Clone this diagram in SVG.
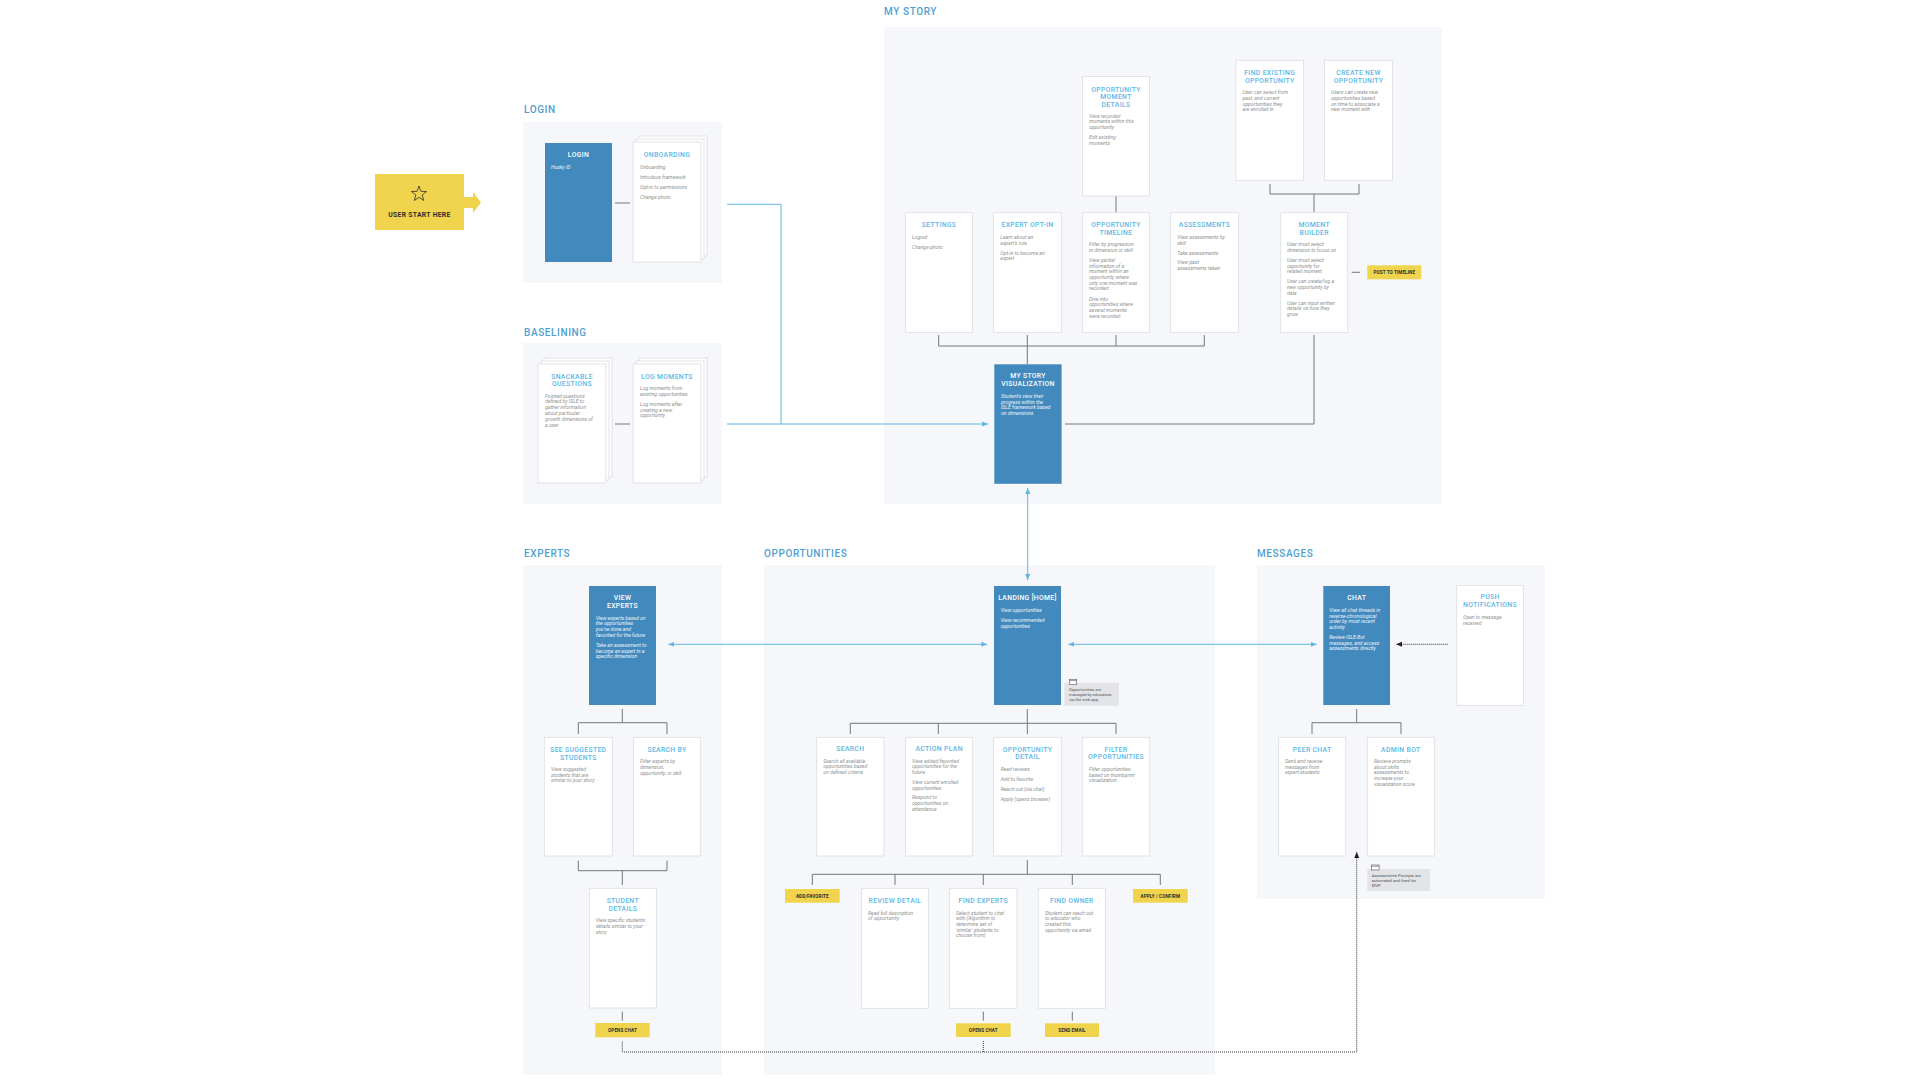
<svg xmlns="http://www.w3.org/2000/svg" width="1920" height="1080" viewBox="0 0 1920 1080">
<defs>
<style>
.panel{fill:#f6f7fb}
.sec{font-family:Roboto,"Liberation Sans",sans-serif;font-size:10px;font-weight:500;fill:#4f9fd2;letter-spacing:.6px}
.card{fill:#fff;stroke:#dcdde1;stroke-width:.8}
.bnode{fill:#4289bd}
.t{font-family:Roboto,"Liberation Sans",sans-serif;font-size:6.8px;font-weight:500;fill:#5ab8e8;text-anchor:middle;letter-spacing:.35px}
.tw{font-family:Roboto,"Liberation Sans",sans-serif;font-size:6.8px;font-weight:500;fill:#ffffff;text-anchor:middle;letter-spacing:.35px}
.b{font-family:Roboto,"Liberation Sans",sans-serif;font-size:5.1px;font-style:italic;fill:#8d8f92}
.bw{font-family:Roboto,"Liberation Sans",sans-serif;font-size:5.1px;font-style:italic;fill:#eef5fb}
.c{stroke:#74767a;stroke-width:1;fill:none}
.bl{stroke:#62b6e4;stroke-width:1;fill:none}
.y{fill:#f0d44e}
.yt{font-family:Roboto,"Liberation Sans",sans-serif;font-size:4.6px;font-weight:700;fill:#2e2e2e;text-anchor:middle;letter-spacing:.1px}
.d{stroke:#333;stroke-width:1;fill:none;stroke-dasharray:1 1}
.note{fill:#e3e4e8}
.nt{font-family:Roboto,"Liberation Sans",sans-serif;font-size:4.2px;fill:#555}
.ic{fill:#fff;stroke:#555;stroke-width:.6}
</style>
<marker id="ab" markerUnits="userSpaceOnUse" markerWidth="6" markerHeight="6" refX="6" refY="3" orient="auto-start-reverse"><path d="M0,0.5 L6,3 L0,5.5 z" fill="#62b6e4"/></marker>
<marker id="ad" markerUnits="userSpaceOnUse" markerWidth="6" markerHeight="6" refX="6" refY="3" orient="auto-start-reverse"><path d="M0,0.5 L6,3 L0,5.5 z" fill="#222"/></marker>
</defs>
<rect x="0" y="0" width="1920" height="1080" fill="#fff"/>

<!-- panels -->
<g id="panels">
<rect class="panel" x="523" y="122" width="199" height="161"/>
<rect class="panel" x="523" y="343" width="199" height="161"/>
<rect class="panel" x="884" y="27" width="558" height="477"/>
<rect class="panel" x="523" y="565" width="199" height="510"/>
<rect class="panel" x="764" y="565" width="451" height="510"/>
<rect class="panel" x="1257" y="565" width="288" height="334"/>
<text class="sec" x="524" y="113">LOGIN</text>
<text class="sec" x="524" y="335.5">BASELINING</text>
<text class="sec" x="884" y="15">MY STORY</text>
<text class="sec" x="524" y="556.5">EXPERTS</text>
<text class="sec" x="764" y="556.5">OPPORTUNITIES</text>
<text class="sec" x="1257" y="556.5">MESSAGES</text>
</g>

<!-- connectors -->
<g id="connectors">
<path class="bl" d="M727,204.3 H781 V424"/>
<path class="bl" d="M727,424 H988" marker-end="url(#ab)"/>
<path class="bl" d="M1027.7,488 V580" marker-start="url(#ab)" marker-end="url(#ab)"/>
<path class="bl" d="M668.3,644.3 H987.3" marker-start="url(#ab)" marker-end="url(#ab)"/>
<path class="bl" d="M1068.3,644.3 H1316.7" marker-start="url(#ab)" marker-end="url(#ab)"/>
<path class="c" d="M615,203 H630"/>
<path class="c" d="M615,424 H630"/>
<path class="c" d="M1116,196 V212.7"/>
<path class="c" d="M1270,184 V194 H1359 V184 M1314,194 V212.7"/>
<path class="c" d="M938.7,335 V346 H1204.3 V335 M1027.3,335 V364 M1116,335 V346"/>
<path class="c" d="M1314,335 V424 H1065"/>
<path class="c" d="M1351.7,272.3 H1360"/>
<path class="c" d="M622.3,709 V722.7 M578.3,734 V722.7 H667 V734"/>
<path class="c" d="M578.3,860.7 V870.7 H667 V860.7 M622.3,870.7 V885"/>
<path class="c" d="M622.3,1011.7 V1020.7"/>
<path class="c" d="M1027.3,709 V723.3 M850.3,734 V723.3 H1116 V734 M938.3,723.3 V734 M1027.3,723.3 V734"/>
<path class="c" d="M1027.3,860 V874.3 M812.3,885 V874.3 H1160.3 V885 M895,874.3 V885 M983.3,874.3 V885 M1072.3,874.3 V885"/>
<path class="c" d="M983.3,1011.7 V1020.7 M1072.3,1011.7 V1020.7"/>
<path class="c" d="M1356.7,709 V722.7 M1312,734 V722.7 H1401 V734"/>
<path class="d" d="M1447.7,644.3 H1396" marker-end="url(#ad)"/>
<path class="d" d="M622.3,1041.7 V1052 H1356.7 V852" marker-end="url(#ad)"/>
<path class="d" d="M983.3,1041 V1052"/>
</g>

<!-- start -->
<g id="user-start">
<rect class="y" x="375" y="174" width="89" height="56"/>
<polygon class="y" points="464,197 473,197 473,192 481,202.5 473,213 473,208 464,208"/>
<polygon points="419,186 420.94,191.33 426.61,191.53 422.14,195.02 423.7,200.47 419,197.3 414.3,200.47 415.86,195.02 411.39,191.53 417.06,191.33" fill="none" stroke="#2e2e2e" stroke-width=".8" stroke-linejoin="miter"/>
<text x="419.5" y="216.5" font-family="Roboto,'Liberation Sans',sans-serif" font-size="6.8" font-weight="700" fill="#2e2e2e" text-anchor="middle" letter-spacing=".3">USER START HERE</text>
</g>

<!-- LOGIN -->
<g id="login">
<rect class="bnode" x="545" y="143" width="67" height="119"/>
<text class="tw" x="578.5" y="156.5">LOGIN</text>
<text class="bw" x="551" y="168.8">Husky ID</text>
</g>
<g id="onboarding">
<rect class="card" x="639" y="136" width="68" height="120"/>
<rect class="card" x="636" y="139" width="68" height="120"/>
<rect class="card" x="633" y="142" width="68" height="120"/>
<text class="t" x="667" y="156.5">ONBOARDING</text>
<text class="b" x="640" y="168.5">Onboarding</text>
<text class="b" x="640" y="178.5">Introduce framework</text>
<text class="b" x="640" y="188.5">Opt-in to permissions</text>
<text class="b" x="640" y="198.5">Change photo</text>
</g>

<!-- BASELINING -->
<g id="snackable-questions">
<rect class="card" x="544" y="358" width="68" height="119"/>
<rect class="card" x="541" y="361" width="68" height="119"/>
<rect class="card" x="538" y="364" width="68" height="119"/>
<text class="t" x="572" y="378.5">SNACKABLE<tspan x="572" dy="7.6">QUESTIONS</tspan></text>
<text class="b" x="545" y="397.5">Pointed questions<tspan x="545" dy="5.8">defined by ISLE to</tspan><tspan x="545" dy="5.8">gather information</tspan><tspan x="545" dy="5.8">about particular</tspan><tspan x="545" dy="5.8">growth dimensions of</tspan><tspan x="545" dy="5.8">a user</tspan></text>
</g>
<g id="log-moments">
<rect class="card" x="639" y="358" width="68" height="119"/>
<rect class="card" x="636" y="361" width="68" height="119"/>
<rect class="card" x="633" y="364" width="68" height="119"/>
<text class="t" x="667" y="378.5">LOG MOMENTS</text>
<text class="b" x="640" y="390">Log moments from<tspan x="640" dy="5.7">existing opportunities</tspan></text>
<text class="b" x="640" y="406">Log moments after<tspan x="640" dy="5.7">creating a new</tspan><tspan x="640" dy="5.7">opportunity</tspan></text>
</g>

<!-- MY STORY -->
<g id="opportunity-moment-details">
<rect class="card" x="1082.5" y="76.5" width="67" height="119.5"/>
<text class="t" x="1116" y="91.8">OPPORTUNITY<tspan x="1116" dy="7.6">MOMENT</tspan><tspan x="1116" dy="7.6">DETAILS</tspan></text>
<text class="b" x="1089" y="117.5">View recorded<tspan x="1089" dy="5.7">moments within this</tspan><tspan x="1089" dy="5.7">opportunity</tspan></text>
<text class="b" x="1089" y="138.8">Edit existing<tspan x="1089" dy="5.7">moments</tspan></text>
</g>
<g id="find-existing-opportunity">
<rect class="card" x="1236" y="60.3" width="67.5" height="120"/>
<text class="t" x="1269.7" y="74.5">FIND EXISTING<tspan x="1269.7" dy="8">OPPORTUNITY</tspan></text>
<text class="b" x="1242.5" y="94.1">User can select from<tspan x="1242.5" dy="5.7">past, and current</tspan><tspan x="1242.5" dy="5.7">opportunities they</tspan><tspan x="1242.5" dy="5.7">are enrolled in</tspan></text>
</g>
<g id="create-new-opportunity">
<rect class="card" x="1324.6" y="60.3" width="68" height="120"/>
<text class="t" x="1358.6" y="74.5">CREATE NEW<tspan x="1358.6" dy="8">OPPORTUNITY</tspan></text>
<text class="b" x="1331" y="94.1">Users can create new<tspan x="1331" dy="5.7">opportunities based</tspan><tspan x="1331" dy="5.7">on time to associate a</tspan><tspan x="1331" dy="5.7">new moment with</tspan></text>
</g>
<g id="settings">
<rect class="card" x="905.7" y="212.7" width="66.6" height="119.7"/>
<text class="t" x="939" y="226.8">SETTINGS</text>
<text class="b" x="912" y="238.8">Logout</text>
<text class="b" x="912" y="248.8">Change photo</text>
</g>
<g id="expert-opt-in">
<rect class="card" x="993.7" y="212.7" width="67.6" height="119.7"/>
<text class="t" x="1027.5" y="226.8">EXPERT OPT-IN</text>
<text class="b" x="1000.3" y="238.8">Learn about an<tspan x="1000.3" dy="5.7">expert's role</tspan></text>
<text class="b" x="1000.3" y="254.5">Opt-in to become an<tspan x="1000.3" dy="5.7">expert</tspan></text>
</g>
<g id="opportunity-timeline">
<rect class="card" x="1082.7" y="212.7" width="66.6" height="119.7"/>
<text class="t" x="1116" y="226.8">OPPORTUNITY<tspan x="1116" dy="7.8">TIMELINE</tspan></text>
<text class="b" x="1089" y="246.1">Filter by progression<tspan x="1089" dy="5.7">in dimension or skill</tspan></text>
<text class="b" x="1089" y="261.8">View partial<tspan x="1089" dy="5.7">information of a</tspan><tspan x="1089" dy="5.7">moment within an</tspan><tspan x="1089" dy="5.7">opportunity where</tspan><tspan x="1089" dy="5.7">only one moment was</tspan><tspan x="1089" dy="5.7">recorded</tspan></text>
<text class="b" x="1089" y="300.5">Dive into<tspan x="1089" dy="5.7">opportunities where</tspan><tspan x="1089" dy="5.7">several moments</tspan><tspan x="1089" dy="5.7">were recorded</tspan></text>
</g>
<g id="assessments">
<rect class="card" x="1170.7" y="212.7" width="67.6" height="119.7"/>
<text class="t" x="1204.5" y="226.8">ASSESSMENTS</text>
<text class="b" x="1177.3" y="238.8">View assessments by<tspan x="1177.3" dy="5.7">skill</tspan></text>
<text class="b" x="1177.3" y="254.5">Take assessments</text>
<text class="b" x="1177.3" y="264.1">View past<tspan x="1177.3" dy="5.7">assessments taken</tspan></text>
</g>
<g id="moment-builder">
<rect class="card" x="1280.7" y="212.7" width="67" height="119.7"/>
<text class="t" x="1314.2" y="226.8">MOMENT<tspan x="1314.2" dy="7.8">BUILDER</tspan></text>
<text class="b" x="1287" y="246.1">User must select<tspan x="1287" dy="5.7">dimension to focus on</tspan></text>
<text class="b" x="1287" y="261.8">User must select<tspan x="1287" dy="5.7">opportunity for</tspan><tspan x="1287" dy="5.7">related moment</tspan></text>
<text class="b" x="1287" y="283.1">User can create/log a<tspan x="1287" dy="5.7">new opportunity by</tspan><tspan x="1287" dy="5.7">date</tspan></text>
<text class="b" x="1287" y="304.5">User can input written<tspan x="1287" dy="5.7">details on how they</tspan><tspan x="1287" dy="5.7">grow</tspan></text>
</g>
<g id="post-to-timeline">
<rect class="y" x="1367.3" y="265.3" width="54" height="14"/>
<text class="yt" x="1394.3" y="274">POST TO TIMELINE</text>
</g>
<g id="my-story-visualization">
<rect class="bnode" x="994.3" y="364.3" width="67.3" height="119.5"/>
<text class="tw" x="1028" y="378.2">MY STORY<tspan x="1028" dy="8">VISUALIZATION</tspan></text>
<text class="bw" x="1001" y="397.8">Student's view their<tspan x="1001" dy="5.7">progress within the</tspan><tspan x="1001" dy="5.7">ISLE framework based</tspan><tspan x="1001" dy="5.7">on dimensions</tspan></text>
</g>

<!-- EXPERTS -->
<g id="view-experts">
<rect class="bnode" x="589" y="586" width="67" height="119"/>
<text class="tw" x="622.5" y="599.8">VIEW<tspan x="622.5" dy="8">EXPERTS</tspan></text>
<text class="bw" x="595.7" y="619.5">View experts based on<tspan x="595.7" dy="5.7">the opportunities</tspan><tspan x="595.7" dy="5.7">you've done and</tspan><tspan x="595.7" dy="5.7">favorited for the future</tspan></text>
<text class="bw" x="595.7" y="646.8">Take an assessment to<tspan x="595.7" dy="5.7">become an expert in a</tspan><tspan x="595.7" dy="5.7">specific dimension</tspan></text>
</g>
<g id="see-suggested-students">
<rect class="card" x="544.3" y="737.3" width="68" height="118.7"/>
<text class="t" x="578.3" y="751.8">SEE SUGGESTED<tspan x="578.3" dy="8">STUDENTS</tspan></text>
<text class="b" x="551" y="770.8">View suggested<tspan x="551" dy="5.7">students that are</tspan><tspan x="551" dy="5.7">similar to your story</tspan></text>
</g>
<g id="search-by">
<rect class="card" x="633.3" y="737.3" width="67.4" height="118.7"/>
<text class="t" x="667" y="751.8">SEARCH BY</text>
<text class="b" x="640" y="763.1">Filter experts by<tspan x="640" dy="5.7">dimension,</tspan><tspan x="640" dy="5.7">opportunity, or skill</tspan></text>
</g>
<g id="student-details">
<rect class="card" x="589.3" y="888.3" width="67" height="119.7"/>
<text class="t" x="622.8" y="903.2">STUDENT<tspan x="622.8" dy="7.5">DETAILS</tspan></text>
<text class="b" x="595.7" y="922.1">View specific students<tspan x="595.7" dy="5.7">details similar to your</tspan><tspan x="595.7" dy="5.7">story</tspan></text>
</g>
<g id="opens-chat-experts">
<rect class="y" x="595.3" y="1023" width="54.4" height="14.3"/>
<text class="yt" x="622.5" y="1031.8">OPENS CHAT</text>
</g>

<!-- OPPORTUNITIES -->
<g id="landing-home">
<rect class="bnode" x="994" y="586" width="67" height="119"/>
<text class="tw" x="1027.5" y="599.8">LANDING [HOME]</text>
<text class="bw" x="1000.7" y="611.8">View opportunities</text>
<text class="bw" x="1000.7" y="621.8">View recommended<tspan x="1000.7" dy="5.7">opportunities</tspan></text>
</g>
<g id="note-opportunities">
<rect class="note" x="1064.3" y="682.7" width="54.7" height="23"/>
<rect class="ic" x="1069.3" y="679.3" width="7.4" height="5"/>
<path d="M1069.3,680.6 H1076.7" stroke="#555" stroke-width=".6"/>
<text class="nt" x="1069" y="690.8">Opportunities are<tspan x="1069" dy="5">managed by educators</tspan><tspan x="1069" dy="5">via the web app.</tspan></text>
</g>
<g id="search">
<rect class="card" x="816.7" y="737.3" width="67.3" height="118.7"/>
<text class="t" x="850.3" y="750.8">SEARCH</text>
<text class="b" x="823.3" y="762.5">Search all available<tspan x="823.3" dy="5.7">opportunities based</tspan><tspan x="823.3" dy="5.7">on defined criteria</tspan></text>
</g>
<g id="action-plan">
<rect class="card" x="905.7" y="737.3" width="67" height="118.7"/>
<text class="t" x="939.2" y="750.8">ACTION PLAN</text>
<text class="b" x="912" y="762.5">View added/favorited<tspan x="912" dy="5.7">opportunities for the</tspan><tspan x="912" dy="5.7">future</tspan></text>
<text class="b" x="912" y="783.8">View current enrolled<tspan x="912" dy="5.7">opportunities</tspan></text>
<text class="b" x="912" y="799.1">Respond to<tspan x="912" dy="5.7">opportunities on</tspan><tspan x="912" dy="5.7">attendance</tspan></text>
</g>
<g id="opportunity-detail">
<rect class="card" x="993.7" y="737.3" width="67.6" height="118.7"/>
<text class="t" x="1027.5" y="751.5">OPPORTUNITY<tspan x="1027.5" dy="7.7">DETAIL</tspan></text>
<text class="b" x="1000.7" y="770.8">Read reviews</text>
<text class="b" x="1000.7" y="780.8">Add to favorite</text>
<text class="b" x="1000.7" y="790.8">Reach out (via chat)</text>
<text class="b" x="1000.7" y="800.8">Apply (opens browser)</text>
</g>
<g id="filter-opportunities">
<rect class="card" x="1082.3" y="737.3" width="67.4" height="118.7"/>
<text class="t" x="1116" y="751.5">FILTER<tspan x="1116" dy="7.7">OPPORTUNITIES</tspan></text>
<text class="b" x="1089" y="770.8">Filter opportunities<tspan x="1089" dy="5.7">based on thumbprint</tspan><tspan x="1089" dy="5.7">visualization</tspan></text>
</g>
<g id="add-favorite">
<rect class="y" x="785" y="889" width="54.7" height="13.7"/>
<text class="yt" x="812.3" y="897.5">ADD/FAVORITE</text>
</g>
<g id="review-detail">
<rect class="card" x="861.7" y="888.3" width="66.6" height="120"/>
<text class="t" x="895" y="903.2">REVIEW DETAIL</text>
<text class="b" x="868" y="914.5">Read full description<tspan x="868" dy="5.7">of opportunity</tspan></text>
</g>
<g id="find-experts">
<rect class="card" x="949.7" y="888.3" width="67.3" height="120"/>
<text class="t" x="983.3" y="903.2">FIND EXPERTS</text>
<text class="b" x="956" y="914.5">Select student to chat<tspan x="956" dy="5.7">with (Algorithm to</tspan><tspan x="956" dy="5.7">determine set of</tspan><tspan x="956" dy="5.7">'similar' students to</tspan><tspan x="956" dy="5.7">choose from)</tspan></text>
</g>
<g id="find-owner">
<rect class="card" x="1038.3" y="888.3" width="67" height="120"/>
<text class="t" x="1071.8" y="903.2">FIND OWNER</text>
<text class="b" x="1045" y="914.5">Student can reach out<tspan x="1045" dy="5.7">to educator who</tspan><tspan x="1045" dy="5.7">created this</tspan><tspan x="1045" dy="5.7">opportunity via email.</tspan></text>
</g>
<g id="apply-confirm">
<rect class="y" x="1133" y="889" width="54.7" height="13.7"/>
<text class="yt" x="1160.3" y="897.5">APPLY / CONFIRM</text>
</g>
<g id="opens-chat-opportunities">
<rect class="y" x="956" y="1023.3" width="54.7" height="13.7"/>
<text class="yt" x="983.3" y="1031.8">OPENS CHAT</text>
</g>
<g id="send-email">
<rect class="y" x="1045" y="1023.3" width="54" height="13.7"/>
<text class="yt" x="1072" y="1031.8">SEND EMAIL</text>
</g>

<!-- MESSAGES -->
<g id="chat">
<rect class="bnode" x="1323.3" y="586" width="66.7" height="119"/>
<text class="tw" x="1356.7" y="599.8">CHAT</text>
<text class="bw" x="1329.3" y="611.8">View all chat threads in<tspan x="1329.3" dy="5.7">reverse-chronological</tspan><tspan x="1329.3" dy="5.7">order by most recent</tspan><tspan x="1329.3" dy="5.7">activity</tspan></text>
<text class="bw" x="1329.3" y="638.8">Review ISLE-Bot<tspan x="1329.3" dy="5.7">messages, and access</tspan><tspan x="1329.3" dy="5.7">assessments directly</tspan></text>
</g>
<g id="push-notifications">
<rect class="card" x="1456.7" y="585.7" width="66.6" height="119.6"/>
<text class="t" x="1490" y="599.2">PUSH<tspan x="1490" dy="7.6">NOTIFICATIONS</tspan></text>
<text class="b" x="1463" y="618.8">Open to message<tspan x="1463" dy="5.7">received</tspan></text>
</g>
<g id="peer-chat">
<rect class="card" x="1278.7" y="737.3" width="67" height="118.7"/>
<text class="t" x="1312.2" y="751.5">PEER CHAT</text>
<text class="b" x="1285" y="762.8">Send and receive<tspan x="1285" dy="5.7">messages from</tspan><tspan x="1285" dy="5.7">expert-students</tspan></text>
</g>
<g id="admin-bot">
<rect class="card" x="1367.3" y="737.3" width="67" height="118.7"/>
<text class="t" x="1400.8" y="751.5">ADMIN BOT</text>
<text class="b" x="1374" y="762.8">Recieve prompts<tspan x="1374" dy="5.7">about skills</tspan><tspan x="1374" dy="5.7">assessments to</tspan><tspan x="1374" dy="5.7">increase your</tspan><tspan x="1374" dy="5.7">visualization score</tspan></text>
</g>
<g id="note-messages">
<rect class="note" x="1367.3" y="869" width="62.7" height="22"/>
<rect class="ic" x="1371.7" y="865" width="7.4" height="5"/>
<path d="M1371.7,866.3 H1379.1" stroke="#555" stroke-width=".6"/>
<text class="nt" x="1371.7" y="876.5">Assessments Prompts are<tspan x="1371.7" dy="5">automated and fixed for</tspan><tspan x="1371.7" dy="5">MVP</tspan></text>
</g>
</svg>
